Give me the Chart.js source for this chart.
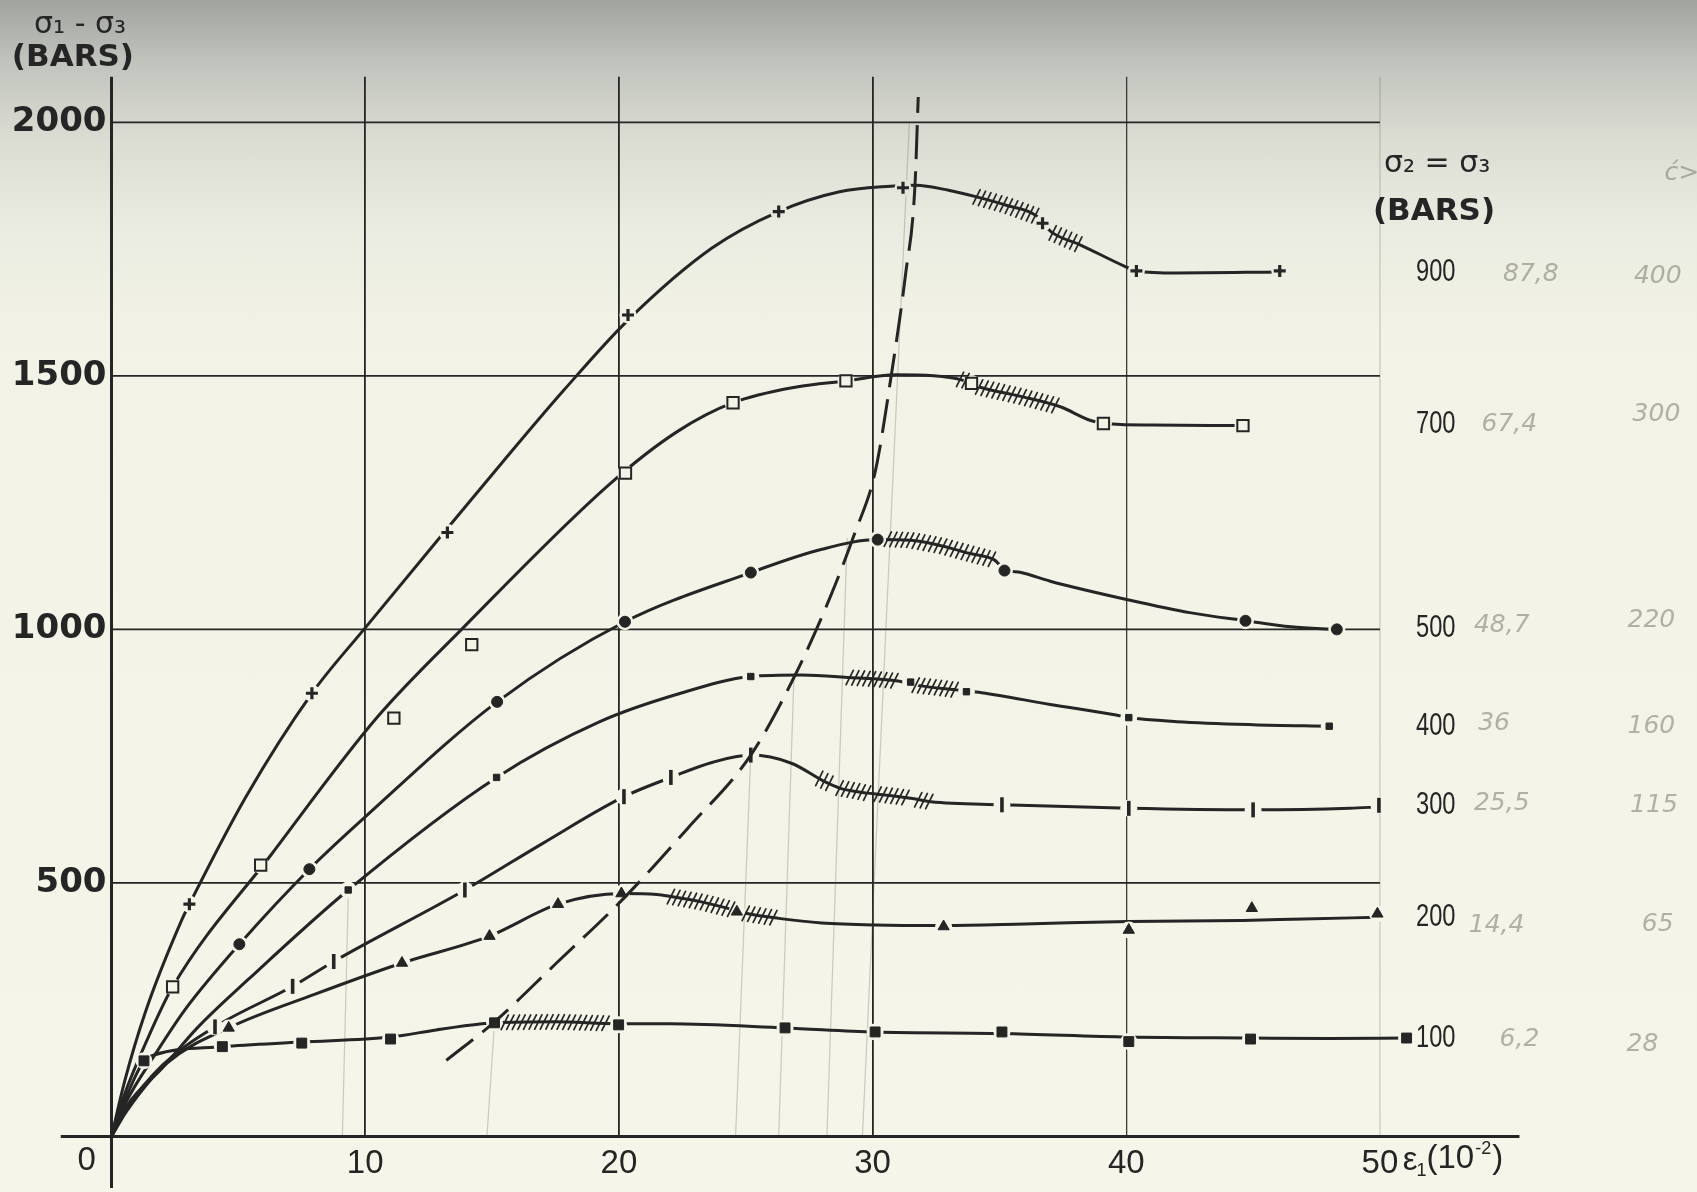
<!DOCTYPE html>
<html><head><meta charset="utf-8">
<script src="https://cdn.jsdelivr.net/npm/chart.js"></script>
<style>
html,body{margin:0;padding:0;width:1697px;height:1192px;overflow:hidden;}
#c{position:absolute;left:0;top:0;}
</style></head><body>
<canvas id="c" width="1697" height="1192"></canvas>
<script>
// ---------------- DATA ----------------
// x = axial strain ε1 (10^-2), y = deviatoric stress σ1-σ3 (bars)
const strainTicks = [0, 10, 20, 30, 40, 50];
const stressTicks = [0, 500, 1000, 1500, 2000];
const confining = ['900', '700', '500', '400', '300', '200', '100'];

const curve900 = [[0,0],[0.53,111],[1.32,243],[2.77,427],[3.07,458],[5.3,670],[7.9,874],[10,1003],[13.3,1203],[15.5,1335],[17.8,1470],[20.36,1610],[23.67,1752],[26.3,1824],[28.7,1863],[30.7,1874],[31.7,1876],[33,1866],[34.1,1853],[35.3,1836],[36.47,1815],[36.7,1801],[37.1,1782],[38.2,1758],[39.9,1717],[40.4,1707],[42,1703],[46.05,1705]];
const marks900 = [[3.07,458],[7.9,874],[13.24,1191],[20.36,1620],[26.3,1824],[31.2,1871],[36.7,1801],[40.4,1707],[46.05,1707]];
const hatch900 = [[[34.1,1853],[35.3,1836],[36.47,1815]],[[37.1,1782],[38.2,1758]]];

const curve700 = [[0,0],[0.53,85],[1.4,190],[2.41,295],[6.33,558],[10.48,827],[13.8,1000],[19.67,1288],[22.3,1390],[24.5,1447],[27,1478],[28.95,1490],[30.9,1502],[32.4,1500],[33.5,1492],[34.2,1478],[35.8,1460],[37.4,1439],[38.6,1412],[39.4,1405],[41,1403],[44.6,1402]];
const marks700 = [[2.41,295],[5.88,535],[11.13,825],[14.2,970],[20.26,1308],[24.5,1447],[28.95,1490],[33.9,1485],[39.1,1406],[44.6,1402]];
const hatch700 = [[[33.45,1493],[33.8,1489]],[[34.2,1478],[35.8,1460],[37.4,1439]]];

const curve500 = [[0,0],[0.6,70],[1.7,160],[2.9,250],[5.04,379],[7.8,527],[10,630],[15.2,857],[20.24,1015],[25.2,1112],[28,1158],[30.2,1177],[31.5,1176],[32.7,1165],[33.8,1150],[34.8,1137],[35.2,1118],[35.85,1112],[37,1095],[40.1,1058],[42.5,1033],[44.7,1017],[46.5,1005],[48.3,1000]];
const marks500 = [[5.04,379],[7.8,527],[15.2,857],[20.24,1015],[25.2,1112],[30.2,1177],[35.2,1116],[44.7,1017],[48.3,1000]];
const hatch500 = [[[30.6,1178],[31.5,1176],[32.7,1165],[33.8,1150],[34.8,1137]]];

const curve400 = [[0,0],[0.6,60],[2.0,135],[3.4,215],[5.4,310],[9.33,486],[15.18,708],[19.25,818],[22.3,872],[25.2,907],[27.2,910],[29.1,905],[31.0,898],[31.7,890],[33.4,880],[34.3,875],[37,852],[39.6,831],[40.1,826],[42,818],[45,812],[48,809]];
const marks400 = [[9.33,486],[15.18,708],[25.2,907],[31.5,896],[33.7,877],[40.1,826],[48,809]];
const hatch400 = [[[29.1,905],[30.1,902],[31.0,898]],[[31.7,890],[32.6,885],[33.4,880]]];

const curve300 = [[0,0],[0.6,55],[2.0,140],[4.08,216],[7.14,296],[8.76,345],[13.93,486],[17,578],[20.2,670],[22.05,708],[23.7,738],[25.2,752],[26.8,736],[28.1,700],[28.7,687],[29.8,677],[30.2,675],[31.5,667],[32.3,660],[35.1,654],[40.1,647],[45,644],[48.8,647],[49.96,650]];
const marks300 = [[4.08,216],[7.14,296],[8.76,345],[13.93,486],[20.2,670],[22.05,708],[25.2,752],[35.1,654],[40.1,647],[45,644],[49.96,653]];
const hatch300 = [[[27.9,706],[28.4,694]],[[28.7,687],[29.3,682],[29.8,677]],[[30.2,675],[30.9,671],[31.5,667]],[[31.8,664],[32.3,660]]];

const curve200 = [[0,0],[0.6,50],[2.2,145],[4.62,214],[8,280],[11.45,342],[14.9,395],[17.6,458],[20.1,479],[21.5,477],[22.05,473],[23.3,462],[24.5,447],[25,440],[26.3,430],[28,421],[30.1,417],[32.8,416],[36,419],[40.1,424],[44.6,426],[47,429],[49.9,432]];
const marks200 = [[4.62,214],[11.45,342],[14.9,395],[17.6,458],[20.1,479],[24.65,443],[32.8,414],[40.1,407],[44.95,450],[49.9,439]];
const hatch200 = [[[22.05,473],[23.3,462],[24.5,447]],[[25.0,440],[25.6,435],[26.3,430]]];

const curve100 = [[0,0],[0.6,80],[1.28,149],[1.71,161],[4.37,177],[7.5,186],[11,196],[12.8,210],[14.6,222],[15.1,224],[17.5,226],[19.99,222],[22,222],[26.55,214],[30.1,206],[35.1,203],[40.1,196],[44.9,194],[48,193],[51.05,194]];
const marks100 = [[1.28,149],[4.37,177],[7.5,184],[11,192],[15.1,224],[19.99,220],[26.55,214],[30.1,206],[35.1,206],[40.1,187],[44.9,192],[51.05,194]];
const hatch100 = [[[15.5,225],[17.5,226],[19.6,223]]];

// dashed peak-strength envelope
const envelope = [[13.2,150],[15.1,226],[17.5,340],[20.2,470],[22.7,607],[25.2,752],[26.9,905],[28.3,1060],[29.3,1190],[30.1,1310],[30.75,1505],[31.3,1700],[31.67,1874],[31.8,2050]];
// faint construction lines
const guideLines = [[[9.1,0],[9.34,486]],[[14.8,0],[15.1,226]],[[24.6,0],[25.2,752]],[[26.3,0],[26.9,905]],[[28.2,0],[29.0,1180]],[[29.6,0],[31.45,2000]]];

// right-hand series labels (σ2=σ3 in bars), handwritten pencil notes
const labelLevels = [1705, 1405, 1002, 809, 653, 433, 193];
const noteA = ['87,8', '67,4', '48,7', '36', '25,5', '14,4', '6,2'];
const noteB = ['400', '300', '220', '160', '115', '65', '28'];

// ---------------- STYLE / LAYOUT ----------------
const INK = '#242524';
const paperStops = [[0,[160,163,158]],[60,[192,195,188]],[140,[219,221,211]],[230,[235,236,225]],[330,[242,242,230]],[1192,[245,245,233]]];
function paperAt(py){
  for (let i=1;i<paperStops.length;i++){
    const [p1,c1]=paperStops[i-1],[p2,c2]=paperStops[i];
    if (py<=p2){ const t=Math.max(0,(py-p1)/(p2-p1)); return 'rgb('+c1.map((c,k)=>Math.round(c+(c2[k]-c)*t)).join(',')+')'; }
  }
  return 'rgb(245,245,233)';
}
document.body.style.background = 'linear-gradient(to bottom,' + paperStops.map(([p,c])=>`rgb(${c.join(',')}) ${p}px`).join(',') + ')';

const pts = a => a.map(([x,y]) => ({x, y}));
const seriesDefs = [
  {curve:curve900, marks:marks900, hatch:hatch900, style:'cross', r:6, bw:3.2, fill:INK},
  {curve:curve700, marks:marks700, hatch:hatch700, style:'rect', r:8, bw:2, fill:'paper'},
  {curve:curve500, marks:marks500, hatch:hatch500, style:'circle', r:5.5, bw:1, fill:INK},
  {curve:curve400, marks:marks400, hatch:hatch400, style:'rect', r:4.5, bw:1, fill:INK},
  {curve:curve300, marks:marks300, hatch:hatch300, style:'line', r:7.5, bw:3.6, fill:INK, rot:90},
  {curve:curve200, marks:marks200, hatch:hatch200, style:'triangle', r:6.5, bw:1, fill:INK},
  {curve:curve100, marks:marks100, hatch:hatch100, style:'rect', r:7, bw:1, fill:INK},
];

function paperForPoint(ctx){
  const ch = ctx.chart; if (!ch.scales || !ch.scales.y || !ctx.raw) return paperAt(900);
  return paperAt(ch.scales.y.getPixelForValue(ctx.raw.y));
}

const datasets = [];
// horizontal grid lines, from the axis to ε1 = 50
stressTicks.filter(v => v > 0).forEach(v => datasets.push({data:pts([[0,v],[50,v]]), showLine:true, borderColor:INK, borderWidth:1.8, pointRadius:0, clip:false, order:80}));
guideLines.forEach(g => datasets.push({data:pts(g), showLine:true, borderColor:'rgba(90,90,80,0.28)', borderWidth:1.2, pointRadius:0, clip:false, order:70}));
seriesDefs.forEach(s => {
  datasets.push({data:pts(s.curve), showLine:true, borderColor:INK, borderWidth:3, pointRadius:0, tension:0.4, cubicInterpolationMode:'monotone', clip:false, order:50});
  datasets.push({data:pts(s.marks), showLine:false, pointStyle:'circle', pointRadius:8.5, pointBorderWidth:0, pointBackgroundColor:paperForPoint, clip:false, order:40});
  datasets.push({data:pts(s.marks), showLine:false, pointStyle:s.style, pointRadius:s.r, pointRotation:s.rot||0, pointBorderWidth:s.bw, pointBorderColor:INK,
    pointBackgroundColor: s.fill==='paper' ? paperForPoint : s.fill, clip:false, order:10});
});
datasets.push({data:pts(envelope), showLine:true, borderColor:INK, borderWidth:3, borderDash:[34,12], pointRadius:0, tension:0.4, cubicInterpolationMode:'monotone', clip:false, order:30});
// axes lines (extend past the frame like the original)
datasets.push({data:pts([[-2,0],[55.5,0]]), showLine:true, borderColor:INK, borderWidth:3, pointRadius:0, clip:false, order:20});
datasets.push({data:pts([[0,-102],[0,2090]]), showLine:true, borderColor:INK, borderWidth:3, pointRadius:0, clip:false, order:20});

// ---------------- PLUGINS ----------------
const hatchPlugin = {
  id:'hatch',
  afterDatasetsDraw(chart){
    const {ctx, scales:{x, y}} = chart;
    ctx.save(); ctx.strokeStyle = INK; ctx.lineWidth = 1.7; ctx.lineCap = 'round';
    seriesDefs.forEach(s => s.hatch.forEach(poly => {
      const P = poly.map(([a,b]) => [x.getPixelForValue(a), y.getPixelForValue(b)]);
      let carry = 0;
      for (let i=1;i<P.length;i++){
        const [x1,y1]=P[i-1],[x2,y2]=P[i];
        const L = Math.hypot(x2-x1,y2-y1);
        let t = carry;
        while (t <= L){
          const px = x1 + (x2-x1)*t/L, py = y1 + (y2-y1)*t/L;
          ctx.beginPath(); ctx.moveTo(px-3.6, py+7.2); ctx.lineTo(px+3.6, py-7.2); ctx.stroke();
          t += 5.6;
        }
        carry = t - L;
      }
    }));
    ctx.restore();
  }
};

const textPlugin = {
  id:'texts',
  afterDraw(chart){
    const {ctx, scales:{x, y}} = chart;
    const X = v => x.getPixelForValue(v), Y = v => y.getPixelForValue(v);
    ctx.save();
    ctx.fillStyle = INK;
    // origin label and strain unit
    ctx.textBaseline = 'top'; ctx.textAlign = 'center';
    ctx.font = '33px "Liberation Sans"';
    ctx.fillText('0', X(-0.98), Y(0) + 8);
    ctx.textAlign = 'left';
    let cx = X(50.9); const ty = Y(0) + 8;
    const big = '33px "Liberation Sans"', small = '18px "Liberation Sans"';
    ctx.font = big; ctx.fillText('ε', cx, ty); cx += ctx.measureText('ε').width - 1;
    ctx.font = small; ctx.fillText('1', cx, ty + 18); cx += ctx.measureText('1').width;
    ctx.font = big; ctx.fillText('(10', cx, ty - 2); cx += ctx.measureText('(10').width + 1;
    ctx.font = small; ctx.fillText('-2', cx, ty - 4); cx += ctx.measureText('-2').width + 1;
    ctx.font = big; ctx.fillText(')', cx, ty - 2);

    // axis title (top-left) and legend title (right)
    ctx.textAlign = 'center'; ctx.textBaseline = 'middle';
    ctx.font = '30px "DejaVu Sans"';
    ctx.fillText('σ₁ - σ₃', X(-1.24), Y(2192));
    ctx.fillText('σ₂ = σ₃', X(52.25), Y(1918));
    ctx.font = 'bold 31px "DejaVu Sans"';
    ctx.fillText('(BARS)', X(-1.52), Y(2127));
    ctx.fillText('(BARS)', X(52.13), Y(1823));

    // condensed series labels
    ctx.font = '32px "Liberation Sans"';
    confining.forEach((t, i) => {
      ctx.save(); ctx.translate(X(52.2), Y(labelLevels[i])); ctx.scale(0.74, 1);
      ctx.fillText(t, 0, 0); ctx.restore();
    });

    // faint pencil notes
    ctx.fillStyle = 'rgba(120,120,110,0.55)';
    ctx.font = 'italic 25px "DejaVu Sans"';
    const colA = [55.95, 55.1, 54.8, 54.5, 54.8, 54.6, 55.5];
    const colB = [60.95, 60.9, 60.7, 60.7, 60.8, 60.95, 60.35];
    const rowA = [1699, 1405, 1008, 815, 657, 415, 192];
    const rowB = [1695, 1423, 1018, 809, 653, 417, 182];
    noteA.forEach((t,i) => ctx.fillText(t, X(colA[i]), Y(rowA[i])));
    noteB.forEach((t,i) => ctx.fillText(t, X(colB[i]), Y(rowB[i])));
    ctx.fillText('ć>', X(61.9), Y(1900));
    ctx.restore();
  }
};

// ---------------- CHART ----------------
new Chart(document.getElementById('c'), {
  type:'scatter',
  data:{datasets},
  options:{
    responsive:false, animation:false, devicePixelRatio:1, events:[],
    layout:{padding:{left:0, right:279, top:76.7, bottom:0}},
    plugins:{legend:{display:false}, tooltip:{enabled:false}},
    scales:{
      x:{type:'linear', min:0, max:51.5,
        afterBuildTicks: s => { s.ticks = strainTicks.map(v => ({value:v})); },
        afterFit: s => { s.height = 55.6; },
        border:{display:false},
        grid:{drawTicks:false,
          color: c => c.tick.value===0 ? 'rgba(0,0,0,0)' : c.tick.value===50 ? 'rgba(60,60,50,0.16)' : c.tick.value===40 ? '#3a3a38' : INK,
          lineWidth: c => c.tick.value===40 ? 1.3 : 1.8},
        ticks:{padding:8, autoSkip:false, maxRotation:0, color:INK, font:{family:'Liberation Sans', size:33},
          callback: v => v===0 ? '' : String(v)}},
      y:{type:'linear', min:0, max:2090,
        afterBuildTicks: s => { s.ticks = stressTicks.map(v => ({value:v})); },
        afterFit: s => { s.width = 111.5; },
        border:{display:false},
        grid:{display:false, drawTicks:false},
        ticks:{padding:5, color:INK, font:{family:'DejaVu Sans', size:34, weight:'bold'},
          callback: v => v===0 ? '' : String(v)}}
    }
  },
  plugins:[hatchPlugin, textPlugin]
});
</script>
</body></html>
